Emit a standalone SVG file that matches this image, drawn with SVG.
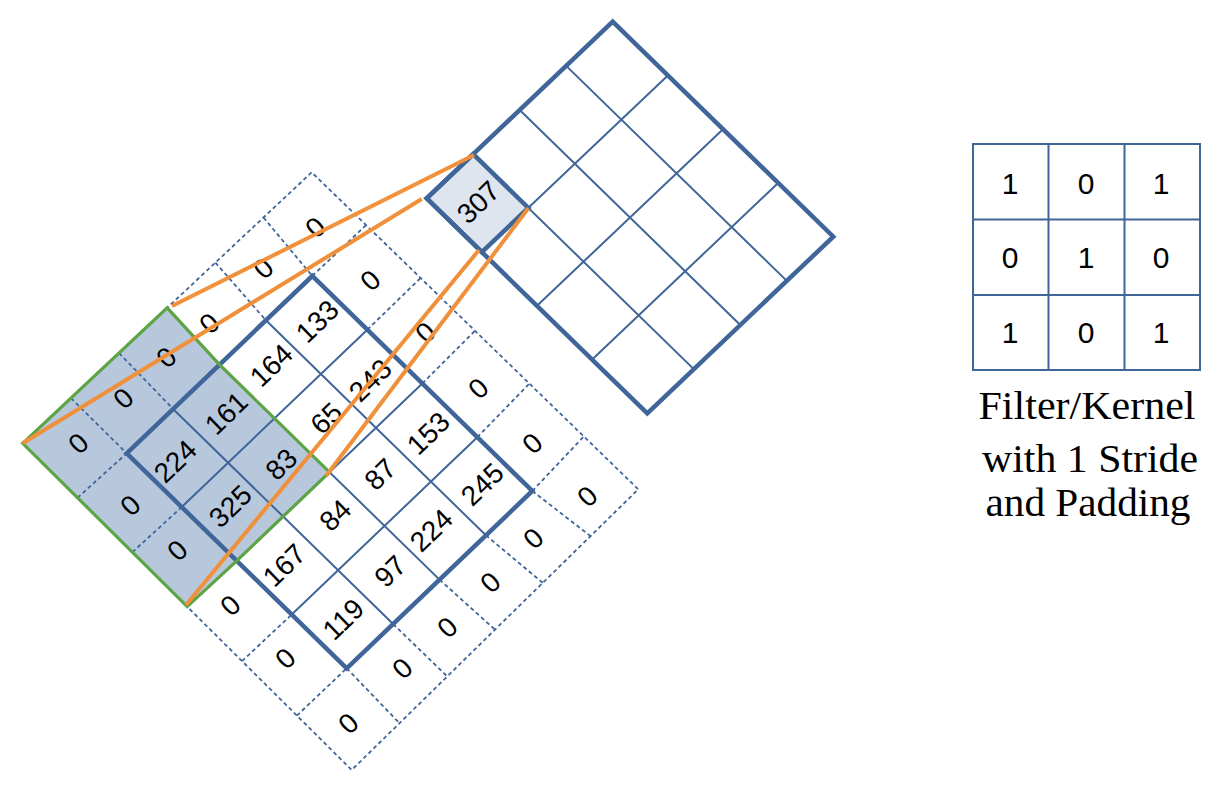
<svg xmlns="http://www.w3.org/2000/svg" width="1224" height="800" viewBox="0 0 1224 800">
<style>
.dash{fill:none;stroke:#3F6599;stroke-width:1.8;stroke-dasharray:4 3}
.thin{fill:none;stroke:#3F6599;stroke-width:2}
.thick{fill:none;stroke:#3F6599;stroke-width:4.5;stroke-linejoin:miter}
.num{font-family:"Liberation Sans",Arial,sans-serif;font-size:28px;fill:#000;text-anchor:middle}
.k{font-family:"Liberation Sans",Arial,sans-serif;font-size:30px;fill:#000;text-anchor:middle}
.lbl{font-family:"Liberation Serif","Times New Roman",serif;font-size:39px;fill:#000;text-anchor:middle}
.conn{stroke:#F0903A;stroke-width:4;fill:none;stroke-linecap:butt}
</style>
<rect width="1224" height="800" fill="#fff"/>

<g id="input">
  <polygon points="22.7,443.3 167.2,307.8 219.5,364.65 329.5,472.15 236.7,560.8 187.2,606.65" fill="#B7C8DD"/>
  <g id="padding-grid">
    <polygon class="dash" points="22.7,443.3 311.7,172.3 638.3,489.3 351.7,770"/>
    <path class="dash" d="M70.9,398.1L126.7,453.3M119,353L173.1,409M167.2,307.8L219.5,364.65M215.4,262.6L265.9,320.3M263.5,217.5L312.3,276M346.7,668.3L399.5,723.2M393.1,624L447.2,676.4M439.5,579.65L495,629.65M485.9,535.3L542.8,582.9M532.3,491L590.5,536.1M77.5,497.75L126.7,453.3M132.4,552.2L181.7,507.05M187.2,606.65L236.7,560.8M242,661.1L291.7,614.55M296.9,715.55L346.7,668.3M312.3,276L366.1,225.1M367.3,329.75L420.6,278M422.3,383.5L475,330.8M477.3,437.25L529.4,383.6M532.3,491L583.8,436.5"/>
  </g>
  <g id="input-grid">
    <path class="thin" d="M173.1,408.975L393.1,623.975M219.5,364.65L439.5,579.65M265.9,320.325L485.9,535.325M181.7,507.05L367.3,329.75M236.7,560.8L422.3,383.5M291.7,614.55L477.3,437.25"/>
    <polygon class="thick" points="126.7,453.3 312.3,276 532.3,491 346.7,668.3"/>
  </g>
  <polygon id="receptive-field" points="22.7,443.3 167.2,307.8 219.5,364.65 329.5,472.15 236.7,560.8 187.2,606.65" fill="none" stroke="#5DA444" stroke-width="3.2" stroke-linejoin="miter"/>
  <g id="input-values">
    <text class="num" dy="0.36em" transform="translate(175,461) rotate(-44)">224</text>
    <text class="num" dy="0.36em" transform="translate(226,413) rotate(-44)">161</text>
    <text class="num" dy="0.36em" transform="translate(271,365) rotate(-44)">164</text>
    <text class="num" dy="0.36em" transform="translate(317,321) rotate(-44)">133</text>
    <text class="num" dy="0.36em" transform="translate(230,506) rotate(-44)">325</text>
    <text class="num" dy="0.36em" transform="translate(281,464) rotate(-44)">83</text>
    <text class="num" dy="0.36em" transform="translate(326,418) rotate(-44)">65</text>
    <text class="num" dy="0.36em" transform="translate(370,380) rotate(-44)">243</text>
    <text class="num" dy="0.36em" transform="translate(284,565) rotate(-44)">167</text>
    <text class="num" dy="0.36em" transform="translate(335,515) rotate(-44)">84</text>
    <text class="num" dy="0.36em" transform="translate(380,474) rotate(-44)">87</text>
    <text class="num" dy="0.36em" transform="translate(428,433) rotate(-44)">153</text>
    <text class="num" dy="0.36em" transform="translate(343,619) rotate(-44)">119</text>
    <text class="num" dy="0.36em" transform="translate(390,571) rotate(-44)">97</text>
    <text class="num" dy="0.36em" transform="translate(431,530) rotate(-44)">224</text>
    <text class="num" dy="0.36em" transform="translate(482,484) rotate(-44)">245</text>
  </g>
  <g id="padding-values">
    <text class="num" dy="0.36em" transform="translate(78,443) rotate(-44)">0</text>
    <text class="num" dy="0.36em" transform="translate(123,398) rotate(-44)">0</text>
    <text class="num" dy="0.36em" transform="translate(166,357) rotate(-44)">0</text>
    <text class="num" dy="0.36em" transform="translate(209,323) rotate(-44)">0</text>
    <text class="num" dy="0.36em" transform="translate(263,268) rotate(-44)">0</text>
    <text class="num" dy="0.36em" transform="translate(315,227) rotate(-44)">0</text>
    <text class="num" dy="0.36em" transform="translate(370,280) rotate(-44)">0</text>
    <text class="num" dy="0.36em" transform="translate(425,332) rotate(-44)">0</text>
    <text class="num" dy="0.36em" transform="translate(478,388) rotate(-44)">0</text>
    <text class="num" dy="0.36em" transform="translate(532,443) rotate(-44)">0</text>
    <text class="num" dy="0.36em" transform="translate(587,496) rotate(-44)">0</text>
    <text class="num" dy="0.36em" transform="translate(533,538) rotate(-44)">0</text>
    <text class="num" dy="0.36em" transform="translate(490,582) rotate(-44)">0</text>
    <text class="num" dy="0.36em" transform="translate(447,627) rotate(-44)">0</text>
    <text class="num" dy="0.36em" transform="translate(402,668) rotate(-44)">0</text>
    <text class="num" dy="0.36em" transform="translate(348,723) rotate(-44)">0</text>
    <text class="num" dy="0.36em" transform="translate(285,658) rotate(-44)">0</text>
    <text class="num" dy="0.36em" transform="translate(230,605) rotate(-44)">0</text>
    <text class="num" dy="0.36em" transform="translate(177,550) rotate(-44)">0</text>
    <text class="num" dy="0.36em" transform="translate(130,505) rotate(-44)">0</text>
  </g>
</g>

<g id="output">
  <polygon points="426.7,198.3 473.2,154.15 528.35,207.9 481.85,252.05" fill="#DEE5EF"/>
  <path class="thin" d="M473.2,154.15L693.8,369.15M519.7,110L740.3,325M566.2,65.85L786.8,280.85M481.85,252.05L667.85,75.45M537,305.8L723,129.2M592.15,359.55L778.15,182.95"/>
  <polygon class="thick" points="426.7,198.3 612.7,21.7 833.3,236.7 647.3,413.3"/>
  <polygon class="thick" points="426.7,198.3 473.2,154.15 528.35,207.9 481.85,252.05"/>
  <text class="num" dy="0.36em" transform="translate(478,202) rotate(-44)">307</text>
</g>

<g id="connectors">
  <line class="conn" x1="172" y1="306" x2="474" y2="155"/>
  <line class="conn" x1="22.7" y1="443.3" x2="421.7" y2="199"/>
  <line class="conn" x1="186" y1="605" x2="479" y2="250"/>
  <line class="conn" x1="326" y1="476" x2="528.3" y2="208.3"/>
</g>

<g id="kernel">
  <rect x="973" y="144" width="227" height="226" fill="#fff" stroke="#3F6599" stroke-width="2"/>
  <path d="M1048.5,144V370M1124.5,144V370M973,219.5H1200M973,295H1200" stroke="#3F6599" stroke-width="2" fill="none"/>
  <text class="k" x="1010" y="194">1</text>
  <text class="k" x="1086" y="194">0</text>
  <text class="k" x="1161" y="194">1</text>
  <text class="k" x="1010" y="268">0</text>
  <text class="k" x="1086" y="268">1</text>
  <text class="k" x="1161" y="268">0</text>
  <text class="k" x="1010" y="343">1</text>
  <text class="k" x="1086" y="343">0</text>
  <text class="k" x="1161" y="343">1</text>
</g>

<g id="label">
  <text class="lbl" x="1087" y="419" textLength="217" lengthAdjust="spacingAndGlyphs">Filter/Kernel</text>
  <text class="lbl" x="1090" y="472" textLength="216" lengthAdjust="spacingAndGlyphs">with 1 Stride</text>
  <text class="lbl" x="1088" y="516" textLength="205" lengthAdjust="spacingAndGlyphs">and Padding</text>
</g>
</svg>
